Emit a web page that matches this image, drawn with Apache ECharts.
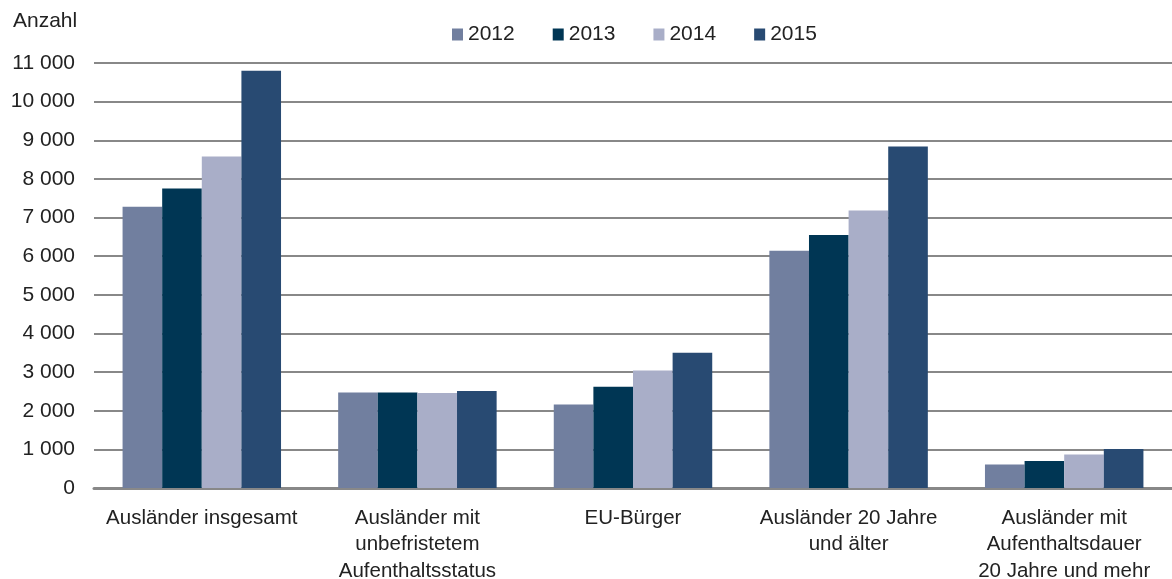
<!DOCTYPE html>
<html lang="de">
<head>
  <meta charset="UTF-8">
  <title>Ausländer</title>
  <script src="https://cdn.jsdelivr.net/npm/echarts@6/dist/echarts.min.js"></script>
  <style>
    html, body { margin: 0; padding: 0; background: #fff; }
    #chart { width: 1172px; height: 579px; }
  </style>
</head>
<body>
  <div id="chart"></div>
  <script>
    // Daten
    const categories = [
      'Ausländer insgesamt',
      'Ausländer mit\nunbefristetem\nAufenthaltsstatus',
      'EU-Bürger',
      'Ausländer 20 Jahre\nund älter',
      'Ausländer mit\nAufenthaltsdauer\n20 Jahre und mehr'
    ]
    const years = ['2012', '2013', '2014', '2015']
    const v2012 = [7280, 2470, 2160, 6140, 610]
    const v2013 = [7750, 2470, 2620, 6550, 700]
    const v2014 = [8580, 2460, 3040, 7180, 870]
    const v2015 = [10800, 2510, 3500, 8840, 1010]
    const yTicks = [0, 11000, 1000] // min, max, interval

    const colors = ['#717f9f', '#003654', '#a9aec8', '#284a72']
    const font = 'Liberation Sans'
    const values = [v2012, v2013, v2014, v2015]

    const chart = echarts.init(document.getElementById('chart'))
    chart.setOption({
      animation: false,
      textStyle: { fontFamily: font, color: '#222' },
      title: {
        text: 'Anzahl',
        left: 8,
        top: 6,
        textStyle: { fontFamily: font, fontSize: 21, fontWeight: 'normal', color: '#222' }
      },
      legend: {
        data: years,
        left: 447,
        top: 19,
        icon: 'rect',
        itemWidth: 11,
        itemHeight: 12,
        itemGap: 38,
        textStyle: { fontFamily: font, fontSize: 21, color: '#222' }
      },
      grid: { left: 94, right: 0, top: 63, bottom: 91, containLabel: false, outerBoundsMode: 'none' },
      xAxis: {
        type: 'category',
        data: categories,
        axisTick: { show: false },
        axisLine: { lineStyle: { color: '#888', width: 3 } },
        axisLabel: {
          margin: 17,
          fontFamily: font,
          fontSize: 20.5,
          lineHeight: 26.5,
          color: '#222',
          interval: 0
        }
      },
      yAxis: {
        type: 'value',
        min: yTicks[0],
        max: yTicks[1],
        interval: yTicks[2],
        axisLine: { show: false },
        axisTick: { show: false },
        splitLine: { lineStyle: { color: '#888', width: 2 } },
        axisLabel: {
          margin: 19,
          fontFamily: font,
          fontSize: 21,
          color: '#222',
          formatter: v => String(v).replace(/\B(?=(\d{3})+(?!\d))/g, ' ')
        }
      },
      series: years.map((y, i) => ({
        name: y,
        type: 'bar',
        data: values[i],
        barGap: 0,
        barCategoryGap: '26.5%',
        itemStyle: { color: colors[i] }
      }))
    })
  </script>
</body>
</html>
